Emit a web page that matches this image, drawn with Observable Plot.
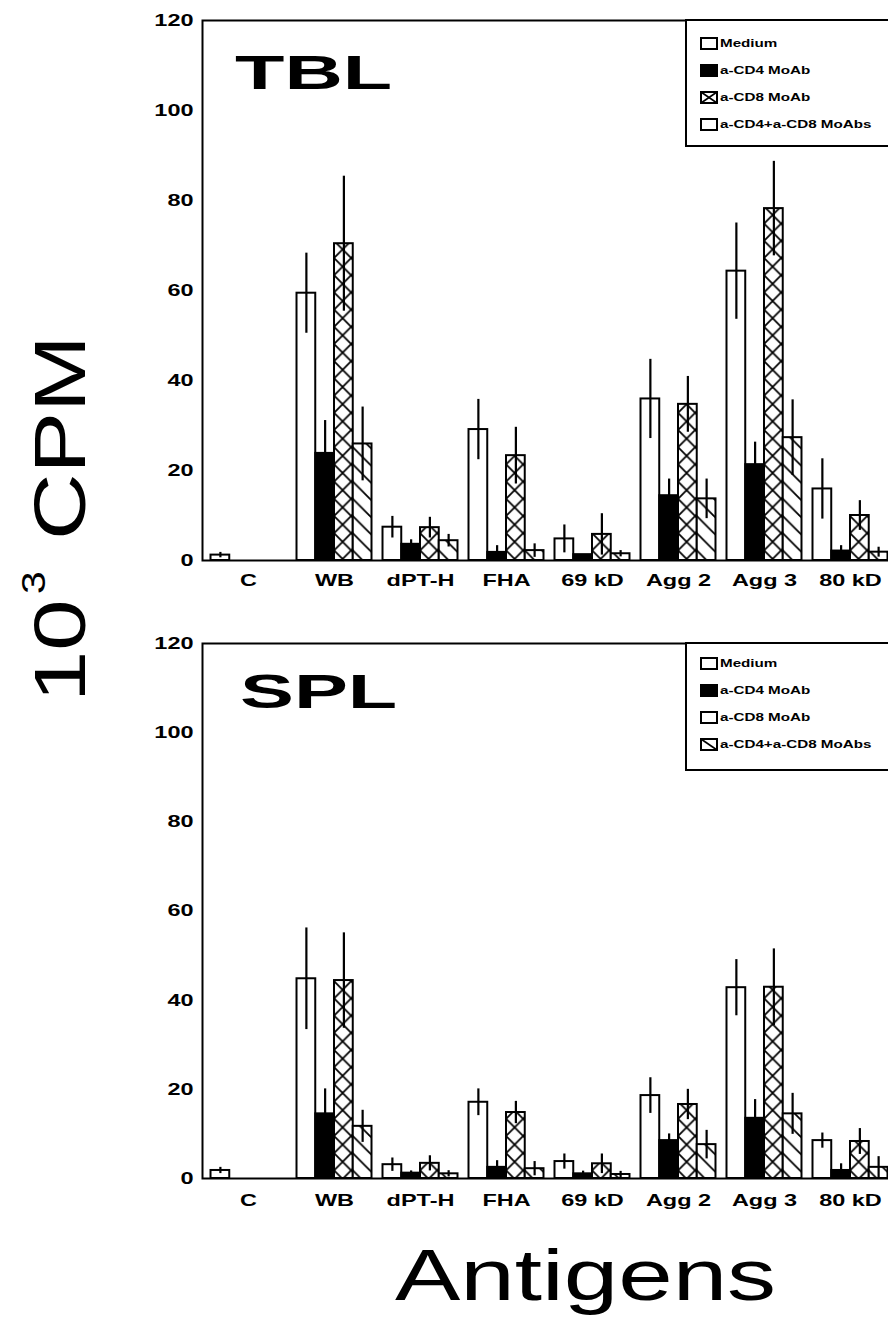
<!DOCTYPE html>
<html>
<head>
<meta charset="utf-8">
<script src="https://cdn.jsdelivr.net/npm/d3@7"></script>
<script src="https://cdn.jsdelivr.net/npm/@observablehq/plot@0.6"></script>
<style>
html, body { margin: 0; padding: 0; background: #fff; overflow: hidden; }
#page { position: relative; width: 888px; height: 1318px; overflow: hidden; background: #fff;
  font-family: "Liberation Sans", Arial, Helvetica, sans-serif; color: #000; }
.panel { position: absolute; left: 0; }
.abs { position: absolute; white-space: nowrap; line-height: 1; z-index: 3; }
.stretch { display: inline-block; transform-origin: 0 50%; }
.legend-box { position: absolute; left: 685px; width: 260px; border-left: 2px solid #000;
  border-top: 2px solid #000; border-bottom: 2px solid #000; background: #fff; z-index: 2; box-sizing: border-box; }
.legend-row { position: absolute; display: flex; align-items: center; height: 14px; z-index: 3; white-space: nowrap; }
.legend-row span { font-weight: bold; font-size: 11.5px; display: inline-block; transform: scaleX(1.32); transform-origin: 0 50%; margin-left: 2px; }
</style>
</head>
<body>
<svg width="0" height="0" style="position:absolute">
  <defs>
    <pattern id="cross" patternUnits="userSpaceOnUse" x="248" y="0" width="17.2" height="17.2">
      <rect width="17.2" height="17.2" fill="#fff"/>
      <path d="M0,0L17.2,17.2M17.2,0L0,17.2" stroke="#000" stroke-width="1.8" fill="none"/>
    </pattern>
    <pattern id="hatch" patternUnits="userSpaceOnUse" x="266.75" y="0" width="17.2" height="17.2">
      <rect width="17.2" height="17.2" fill="#fff"/>
      <path d="M0,0L17.2,17.2M16.2,-1L18.2,1M-1,16.2L1,18.2" stroke="#000" stroke-width="1.8" fill="none"/>
    </pattern>
  </defs>
</svg>
<div id="page"></div>
<script>
// ---------- data ----------
const antigens = ["C", "WB", "dPT-H", "FHA", "69 kD", "Agg 2", "Agg 3", "80 kD"];
const treatments = ["Medium", "a-CD4 MoAb", "a-CD8 MoAb", "a-CD4+a-CD8 MoAbs"];
const yTicks = [0, 20, 40, 60, 80, 100, 120];

// TBL (10^3 CPM)
const tblMedium    = [1.2, 59.4, 7.4, 29.1, 4.8, 35.9, 64.3, 15.9];
const tblMediumErr = [0.6, 8.9, 2.4, 6.7, 3.1, 8.8, 10.7, 6.7];
const tblCD4       = [null, 23.8, 3.6, 1.8, 1.3, 14.4, 21.3, 2.1];
const tblCD4Err    = [null, 7.3, 1.0, 1.5, 0, 3.7, 5.0, 1.2];
const tblCD8       = [null, 70.4, 7.3, 23.3, 5.8, 34.7, 78.2, 10.0];
const tblCD8Err    = [null, 15.0, 2.3, 6.3, 4.6, 6.2, 10.5, 3.3];
const tblBoth      = [null, 25.9, 4.4, 2.2, 1.5, 13.7, 27.3, 1.85];
const tblBothErr   = [null, 8.2, 1.4, 1.5, 0.7, 4.4, 8.4, 1.1];

// SPL (10^3 CPM)
const splMedium    = [1.8, 44.8, 3.1, 17.1, 3.8, 18.6, 42.8, 8.5];
const splMediumErr = [0.7, 11.4, 1.5, 3.0, 1.7, 4.0, 6.3, 1.7];
const splCD4       = [null, 14.5, 1.2, 2.5, 1.05, 8.5, 13.5, 1.8];
const splCD4Err    = [null, 5.6, 0.5, 1.5, 0.6, 1.5, 4.2, 1.5];
const splCD8       = [null, 44.4, 3.4, 14.8, 3.3, 16.6, 42.9, 8.3];
const splCD8Err    = [null, 10.7, 1.7, 2.5, 2.2, 3.4, 8.6, 2.9];
const splBoth      = [null, 11.7, 1.05, 2.2, 0.9, 7.6, 14.5, 2.5];
const splBothErr   = [null, 3.6, 0.7, 1.6, 0.7, 3.2, 4.6, 2.4];

// legend swatches as printed in each panel
const tblLegendKinds = ["white", "black", "cross", "white"];
const splLegendKinds = ["white", "black", "white", "hatch"];

// ---------- drawing ----------
const barFills = ["#fff", "#000", "url(#cross)", "url(#hatch)"];
const bandW = 75;               // px width of a group of four bars
const barW = bandW / 4;

function panel(values, errors, opts) {
  const rows = [];
  treatments.forEach((t, k) => antigens.forEach((a, i) => {
    rows.push({antigen: a, treatment: t, k, value: values[k][i], err: errors[k][i]});
  }));
  const marks = [];
  treatments.forEach((t, k) => {
    const d = rows.filter(r => r.k === k && r.value != null);
    marks.push(Plot.barY(d, {
      x: "antigen", y: "value", fill: barFills[k], stroke: "#000", strokeWidth: 2,
      insetLeft: k * barW, insetRight: (3 - k) * barW
    }));
  });
  treatments.forEach((t, k) => {
    const d = rows.filter(r => r.k === k && r.value != null && r.err > 0);
    marks.push(Plot.ruleX(d, {
      x: "antigen", y1: r => r.value - r.err, y2: r => r.value + r.err,
      dx: (k - 1.5) * barW, stroke: "#000", strokeWidth: 2.2
    }));
  });
  marks.push(Plot.frame({stroke: "#000", strokeWidth: 2}));
  return Plot.plot({
    width: 888,
    height: 600,
    marginLeft: 202,
    marginRight: -8,
    marginTop: opts.marginTop,
    marginBottom: opts.marginBottom,
    style: {fontFamily: '"Liberation Sans", Arial, sans-serif', fontSize: "17px", fontWeight: "bold", background: "transparent", color: "#000"},
    x: {domain: antigens, paddingInner: 0.128, paddingOuter: 0.099, align: 0.5, round: false,
        tickSize: 0, tickPadding: opts.xPad, label: null},
    y: {domain: [0, 120], ticks: yTicks, tickSize: 0, tickPadding: 9, label: null},
    marks
  });
}

const page = document.getElementById("page");

function addPanel(svg, top) {
  const wrap = document.createElement("div");
  wrap.className = "panel";
  wrap.style.top = top + "px";
  wrap.appendChild(svg);
  page.appendChild(wrap);
  // widen tick labels to match the stretched lettering of the original
  svg.querySelectorAll("text").forEach(t => {
    const len = t.getComputedTextLength();
    if (len > 0) {
      t.setAttribute("textLength", (len * 1.38).toFixed(1));
      t.setAttribute("lengthAdjust", "spacingAndGlyphs");
    }
  });
}

addPanel(panel([tblMedium, tblCD4, tblCD8, tblBoth], [tblMediumErr, tblCD4Err, tblCD8Err, tblBothErr],
  {marginTop: 20, marginBottom: 40, xPad: 13}), 0);
addPanel(panel([splMedium, splCD4, splCD8, splBoth], [splMediumErr, splCD4Err, splCD8Err, splBothErr],
  {marginTop: 23, marginBottom: 42, xPad: 15}), 620);

// ---------- legends ----------
function swatch(kind) {
  const ns = "http://www.w3.org/2000/svg";
  const s = document.createElementNS(ns, "svg");
  s.setAttribute("width", 18); s.setAttribute("height", 13);
  const r = document.createElementNS(ns, "rect");
  r.setAttribute("x", 1); r.setAttribute("y", 1); r.setAttribute("width", 16); r.setAttribute("height", 11);
  r.setAttribute("fill", kind === "black" ? "#000" : "#fff");
  r.setAttribute("stroke", "#000"); r.setAttribute("stroke-width", 2);
  s.appendChild(r);
  if (kind === "cross" || kind === "hatch") {
    const p = document.createElementNS(ns, "path");
    p.setAttribute("d", kind === "cross" ? "M1,1L17,12M17,1L1,12" : "M1,1L17,12");
    p.setAttribute("stroke", "#000"); p.setAttribute("stroke-width", 1.6);
    s.appendChild(p);
  }
  return s;
}

function legend(kinds, boxTop, boxBottom, firstRow) {
  const box = document.createElement("div");
  box.className = "legend-box";
  box.style.top = boxTop + "px";
  box.style.height = (boxBottom - boxTop) + "px";
  page.appendChild(box);
  treatments.forEach((t, i) => {
    const row = document.createElement("div");
    row.className = "legend-row";
    row.style.left = "700px";
    row.style.top = (firstRow + 27 * i - 7) + "px";
    row.appendChild(swatch(kinds[i]));
    const sp = document.createElement("span");
    sp.textContent = t;
    row.appendChild(sp);
    page.appendChild(row);
  });
}
legend(tblLegendKinds, 19, 147, 43);
legend(splLegendKinds, 642, 771, 663);

// ---------- titles & axis labels ----------
function label(text, css, inner) {
  const d = document.createElement("div");
  d.className = "abs";
  d.style.cssText += css;
  const s = document.createElement("span");
  s.className = "stretch";
  s.textContent = text;
  if (inner) s.style.cssText = inner;
  d.appendChild(s);
  page.appendChild(d);
  return d;
}
const rot = "transform:rotate(-90deg);transform-origin:0 0;";
label("TBL", "left:235px;top:47.5px;font-size:49px;font-weight:bold;", "transform:scaleX(1.65)");
label("SPL", "left:240px;top:667px;font-size:49px;font-weight:bold;", "transform:scaleX(1.65)");
label("Antigens", "left:395px;top:1239px;font-size:72px;", "transform:scaleX(1.36)");
label("CPM", "left:24px;top:540px;font-size:72px;" + rot, "transform:scaleX(1.28)");
label("3", "left:16px;top:594px;font-size:34px;" + rot, "transform:scaleX(1.2)");
label("10", "left:24px;top:702px;font-size:72px;" + rot, "transform:scaleX(1.28)");
</script>
</body>
</html>
